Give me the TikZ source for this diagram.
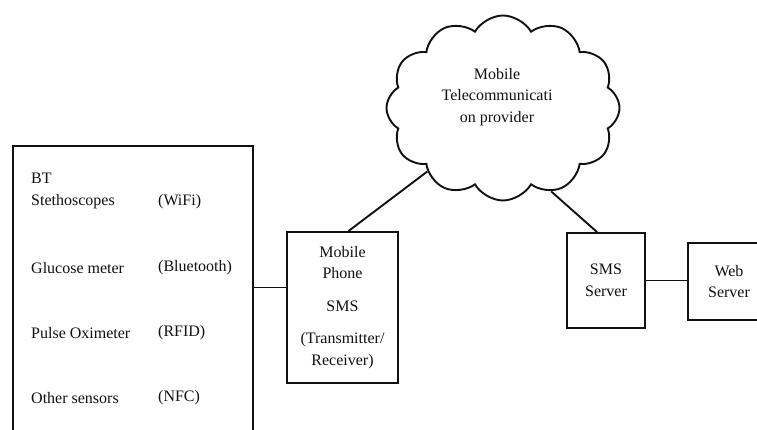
\documentclass[tikz,border=0pt]{standalone}
\usepackage{fontspec}
\setmainfont{Liberation Serif}
\usetikzlibrary{shapes.symbols,positioning,calc}
\definecolor{traco}{HTML}{111111}
\tikzset{
  caixa/.style={rectangle, draw=traco, line width=1.9pt, align=center,
    inner sep=0pt},
  nuvem/.style={cloud, cloud puffs=12, cloud puff arc=120, cloud ignores aspect,
    draw=traco, line width=1.9pt,
    minimum width=233pt, minimum height=185pt},
  rotulo/.style={anchor=west, align=left, inner sep=0pt},
  linha/.style={draw=traco, line width=1.9pt},
}

\begin{document}
\begin{tikzpicture}[x=1pt, y=1pt,
    font=\fontsize{16}{21.5}\selectfont, text=traco]
    \fill[white] (0,0) rectangle (757,430);
    \useasboundingbox (0,0) rectangle (757,430);
    \node[caixa, minimum width=240pt, minimum height=300pt] (sensores) at (133,134) {};
    \node[caixa, minimum width=111pt, minimum height=151pt] (telemovel) at (342.5,122.5)
      {Mobile\\Phone\\[11pt]SMS\\[11pt](Transmitter/\\Receiver)};
    \node[nuvem] (rede) at (503,322) {};
    \node[align=center, inner sep=0pt] (operadora) at (497,333) {Mobile\\Telecommunicati\\on provider};
    \node[caixa, minimum width=78pt, minimum height=95pt] (smssrv) at (606,149.5) {SMS\\Server};
    \node[caixa, minimum width=82pt, minimum height=77pt] (websrv) at (729,148.5) {Web\\Server};
    % sensores e interfaces
    \node[rotulo] (bt) at (31,239) {BT\\Stethoscopes};
    \node[rotulo] (wifi) at (158,228) {(WiFi)};
    \node[rotulo] (glicose) at (31,162) {Glucose meter};
    \node[rotulo] (bluetooth) at (158,162) {(Bluetooth)};
    \node[rotulo] (oximetro) at (31,97) {Pulse Oximeter};
    \node[rotulo] (rfid) at (158,97) {(RFID)};
    \node[rotulo] (outros) at (31,32) {Other sensors};
    \node[rotulo] (nfc) at (158,32) {(NFC)};
    % ligacoes
    \draw[linha] ([yshift=20pt]telemovel.west) -- ([yshift=20pt]telemovel.west -| sensores.east);
    \draw[linha] ([xshift=6pt]telemovel.north) -- (rede.220);
    \draw[linha] (rede.300) -- ([xshift=-9pt]smssrv.north);
    \draw[linha] (smssrv.east) -- (smssrv.east -| websrv.west);
  \end{tikzpicture}
\end{document}
